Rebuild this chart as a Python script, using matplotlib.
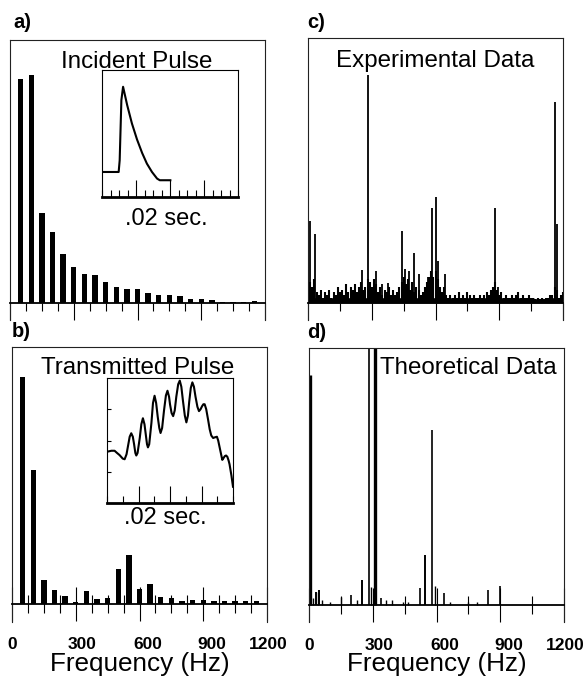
import numpy as np
import matplotlib
matplotlib.use("Agg")
import matplotlib.pyplot as plt
from matplotlib.ticker import MultipleLocator, FixedLocator, NullFormatter
from matplotlib.transforms import ScaledTranslation

plt.rcParams['font.family'] = ['Liberation Sans', 'DejaVu Sans']

W, H = 587, 687

# ---- data (amplitudes in % of panel height) ----
harm_freq = [50, 100, 150, 200, 250, 300, 350, 400, 450, 500, 550, 600,
             650, 700, 750, 800, 850, 900, 950, 1000, 1050, 1100, 1150]
incident_amp = [85, 86.8, 34.3, 27, 18.8, 13.7, 10.9, 10.5, 8, 6.1, 5.5, 5.2,
                3.8, 2.9, 3, 2.5, 1.6, 1.6, 1, 0.4, 0.4, 0.5, 0.8]
transmitted_amp = [88.4, 52, 9.4, 5.3, 3, 0.8, 5.2, 2, 2.3, 13.6, 19, 5.8,
                   7.9, 2.7, 2.2, 1.3, 1.7, 1.4, 1.3, 1.3, 1, 1, 1]

# incident pulse (inset a), time in ms
inc_t = [0, 4.9, 5.2, 5.7, 6.2, 7.4, 8.8, 10.3, 11.8, 13.2, 14.7, 16.2, 17.0, 20.1]
inc_v = [19.7, 19.7, 28.9, 76.3, 86.8, 72.4, 57.9, 45.3, 34.7, 26.3, 19.7, 14.5, 13.2, 13.2]

# transmitted pulse (inset b), time in ms
tr_t = [0, 1.4, 2.4, 3.2, 4.0, 5.0, 5.6, 6.2, 6.7, 7.2, 7.7, 8.2, 8.6, 9.0, 9.3,
        9.7, 10.4, 10.9, 11.4, 11.9, 12.3, 12.7, 13.0, 13.4, 14.1, 14.6, 15.1,
        15.6, 16.1, 16.6, 17.0, 17.5, 18.1, 18.7, 19.2, 19.7, 20.0, 20.5, 21.0,
        21.5, 22.0, 22.6, 23.1, 23.6, 24.1, 24.7, 25.2, 25.7, 26.1, 26.6, 27.1,
        27.6, 28.1, 28.7, 29.2, 29.7, 30.2, 30.6, 31.0, 31.5, 32.1, 32.6, 33.1,
        33.7, 34.2, 34.9, 35.3, 35.8, 36.6, 37.0, 37.4, 37.8, 38.2, 38.6, 38.9,
        39.5, 40.0]
tr_v = [41, 41.8, 41.8, 40, 38.3, 35.5, 35, 39, 46, 53, 55.8, 53, 47, 40, 38,
        40, 52, 63, 67.8, 63, 55, 47, 44.5, 47, 64, 80, 85.8,
        80, 69, 60, 56, 60, 74, 86, 89.8, 85, 79, 72, 69.5,
        74, 85, 95, 97.9, 93, 82, 70, 64.5, 70, 81, 92, 96.5,
        93, 85, 77, 73.5, 75, 77.5, 79, 79, 75, 66.5, 59, 54,
        52, 52.5, 53, 50, 44, 34.5, 36, 37.5, 38, 37, 34, 31,
        22, 13]

# experimental spectrum: noise floor every 10 Hz + discrete peaks
exp_floor_freq = list(range(0, 1210, 10))
exp_floor = [5, 8, 6, 9, 4, 3, 5, 2, 4, 3, 5, 2, 4, 3, 6, 4, 5, 3, 7, 4,
             6, 5, 7, 4, 6, 8, 5, 6, 9, 8, 6, 9, 7, 4, 6, 3, 5, 4, 6, 3,
             5, 3, 4, 6, 8, 10, 7, 9, 5, 8, 4, 6, 5, 3, 4, 6, 8, 10, 12, 10,
             12, 9, 6, 4, 6, 3, 2, 3, 2, 3, 2, 4, 2, 3, 2, 4, 3, 2, 3, 2,
             2, 3, 2, 3, 4, 3, 5, 6, 8, 5, 3, 4, 2, 3, 2, 2, 3, 2, 3, 4,
             2, 3, 2, 2, 3, 2, 2, 1.5, 2, 1.5, 2, 1.5, 2, 2, 3, 3, 6, 5, 2, 3, 4]
exp_peak_freq = [11, 33, 252, 282, 318, 347, 378, 441, 456, 475, 499, 524,
                 566, 582, 604, 612, 645, 880, 896, 1164, 1170]
exp_peak_amp = [31, 26, 12.5, 86, 12, 7, 7.5, 27, 13, 12, 19, 11,
                10, 36, 40, 16, 11, 36, 6, 76, 30]

# theoretical spectrum lines
th_freq = [5, 20, 31, 40, 49, 60, 100, 151, 198, 225, 251, 281, 292, 309,
           339, 362, 392, 440, 464, 522, 547, 577, 595, 637, 664, 750, 789, 844, 899]
th_amp = [89.5, 2.6, 5, 5, 6, 2, 1.3, 3, 4, 2, 9.7, 150, 7, 150,
          2.6, 2, 2, 1, 1, 6.5, 19.5, 68, 7.4, 4.5, 1, 1, 1, 6, 7.4]
th_width = [2.4, 1, 1.4, 1, 1.4, 1, 1, 1, 1.2, 1, 1.4, 1.2, 1, 2.4,
            1.2, 1, 1, 1, 1, 1.2, 1.4, 1.2, 1, 1.2, 1, 1, 1, 1.2, 1.2]

freq_ticks = [0, 300, 600, 900, 1200]
label_shift_px = [0, 6, 8, 9, 1]


def px_rect(left, top, right, bottom):
    return [left / W, 1 - bottom / H, (right - left) / W, (bottom - top) / H]


fig = plt.figure(figsize=(W / 100, H / 100), dpi=100)


def spectrum_axes(rect, ybot, minor_step, tickdir, show_labels):
    ax = fig.add_axes(rect)
    ax.set_xlim(0, 1200)
    ax.set_ylim(ybot, 100)
    ax.spines['bottom'].set_position(('data', 0))
    ax.spines['bottom'].set_linewidth(1.3)
    for s in ['top', 'left', 'right']:
        ax.spines[s].set_linewidth(0.8)
        ax.spines[s].set_color('#222222')
    ax.yaxis.set_visible(False)
    ax.xaxis.set_major_locator(FixedLocator(freq_ticks))
    ax.xaxis.set_minor_locator(MultipleLocator(minor_step))
    if tickdir == 'out':
        ax.tick_params(axis='x', which='major', direction='out', length=12.5, width=0.8)
        ax.tick_params(axis='x', which='minor', direction='out', length=5.8, width=0.8)
    else:
        ax.tick_params(axis='x', which='major', direction='inout', length=25, width=0.8)
        ax.tick_params(axis='x', which='minor', direction='inout', length=13, width=0.8)
    if show_labels:
        ax.set_xticklabels([str(v) for v in freq_ticks], fontsize=12.5, fontweight='bold')
        ax.tick_params(axis='x', which='major', pad=11)
        for lab, dx in zip(ax.get_xticklabels(), label_shift_px):
            lab.set_transform(lab.get_transform() + ScaledTranslation(dx / 100, 0, fig.dpi_scale_trans))
    else:
        ax.xaxis.set_major_formatter(NullFormatter())
    return ax


def pulse_inset(rect, t, v, left_ticks):
    ax = fig.add_axes(rect)
    ax.plot(t, v, color='black', lw=1.5)
    ax.set_xlim(0, 40)
    ax.set_ylim(0, 100)
    ax.spines['bottom'].set_linewidth(2)
    for s in ['top', 'left', 'right']:
        ax.spines[s].set_linewidth(0.8)
    ax.xaxis.set_major_locator(FixedLocator([10, 20, 30]))
    ax.xaxis.set_minor_locator(MultipleLocator(2.5 if not left_ticks else 5))
    ax.xaxis.set_major_formatter(NullFormatter())
    ax.tick_params(axis='x', which='major', direction='in', length=12, width=0.8)
    ax.tick_params(axis='x', which='minor', direction='in', length=5, width=0.8)
    if left_ticks:
        ax.yaxis.set_major_locator(FixedLocator([25, 50, 75]))
        ax.yaxis.set_major_formatter(NullFormatter())
        ax.tick_params(axis='y', direction='in', length=3, width=0.8)
    else:
        ax.set_yticks([])
    return ax


# a) incident pulse spectrum
ax_a = spectrum_axes(px_rect(10, 40, 265, 320), -17 / 263 * 100, 75, 'out', False)
ax_a.bar(harm_freq, incident_amp, width=25, color='black')

# c) experimental data
ax_c = spectrum_axes(px_rect(308, 38, 563, 320), -17 / 265 * 100, 150, 'out', False)
ax_c.fill_between(exp_floor_freq, np.minimum(exp_floor, 2), color='black', lw=0)
ax_c.vlines(exp_floor_freq, 0, exp_floor, color='black', lw=1.5)
ax_c.vlines(exp_peak_freq, 0, exp_peak_amp, color='black', lw=1.3)

# b) transmitted pulse spectrum
ax_b = spectrum_axes(px_rect(12, 347, 267, 622), -18 / 257 * 100, 75, 'inout', True)
ax_b.bar(harm_freq, transmitted_amp, width=25, color='black')

# d) theoretical data
ax_d = spectrum_axes(px_rect(309, 348, 564, 622), -17 / 257 * 100, 150, 'inout', True)
ax_d.vlines(th_freq, 0, th_amp, color='black', lw=th_width)

# insets
pulse_inset(px_rect(102, 70, 238, 197), inc_t, inc_v, False)
pulse_inset(px_rect(107, 378, 233, 503), tr_t, tr_v, True)


def ftext(x, y, s, **kw):
    fig.text(x / W, 1 - y / H, s, **kw)


ftext(13, 22, 'a)', fontsize=14.5, fontweight='bold', ha='left', va='center')
ftext(307, 22, 'c)', fontsize=14.5, fontweight='bold', ha='left', va='center')
ftext(12, 331, 'b)', fontsize=14.5, fontweight='bold', ha='left', va='center')
ftext(307, 333, 'd)', fontsize=14.5, fontweight='bold', ha='left', va='center')

ftext(137, 62, 'Incident Pulse', fontsize=17.4, ha='center', va='center', zorder=0)
ftext(166, 219, '.02 sec.', fontsize=17, ha='center', va='center')
ftext(137.5, 368, 'Transmitted Pulse', fontsize=17.4, ha='center', va='center', zorder=0)
ftext(165, 518, '.02 sec.', fontsize=17, ha='center', va='center')
ftext(435, 61, 'Experimental Data', fontsize=17.4, ha='center', va='center')
ftext(468, 368, 'Theoretical Data', fontsize=17.4, ha='center', va='center')
ftext(140, 664, 'Frequency (Hz)', fontsize=18.8, ha='center', va='center')
ftext(437, 664, 'Frequency (Hz)', fontsize=18.8, ha='center', va='center')

fig.savefig('out.png', dpi=100, facecolor='white')
